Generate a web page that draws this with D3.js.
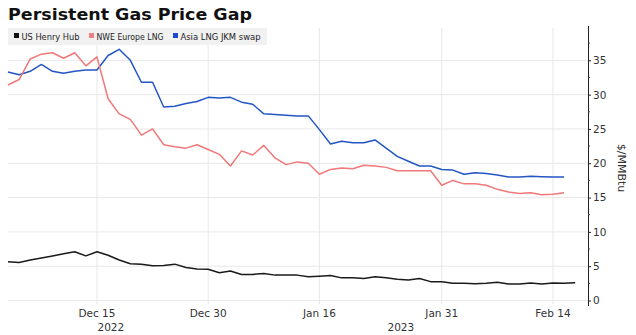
<!DOCTYPE html>
<html><head><meta charset="utf-8">
<script src="https://cdn.jsdelivr.net/npm/d3@7"></script>
<style>
body{margin:0;background:#fff;}
svg{display:block;}
</style></head>
<body>
<svg id="c" width="636" height="335"></svg>
<script>
// trading days shown on the chart (Dec 26 and Jan 2 omitted)
const dates = ["2022-12-05","2022-12-06","2022-12-07","2022-12-08","2022-12-09","2022-12-12","2022-12-13","2022-12-14","2022-12-15","2022-12-16","2022-12-19","2022-12-20","2022-12-21","2022-12-22","2022-12-23","2022-12-27","2022-12-28","2022-12-29","2022-12-30",
"2023-01-03","2023-01-04","2023-01-05","2023-01-06","2023-01-09","2023-01-10","2023-01-11","2023-01-12","2023-01-13","2023-01-16","2023-01-17","2023-01-18","2023-01-19","2023-01-20","2023-01-23","2023-01-24","2023-01-25","2023-01-26","2023-01-27","2023-01-30","2023-01-31",
"2023-02-01","2023-02-02","2023-02-03","2023-02-06","2023-02-07","2023-02-08","2023-02-09","2023-02-10","2023-02-13","2023-02-14","2023-02-15","2023-02-16"];
const henryHub = [5.65,5.55,5.9,6.2,6.5,6.8,7.1,6.5,7.1,6.6,5.9,5.35,5.3,5.05,5.1,5.3,4.8,4.6,4.55,4.05,4.3,3.8,3.8,3.95,3.7,3.7,3.7,3.45,3.55,3.65,3.3,3.3,3.2,3.45,3.3,3.1,3.0,3.2,2.75,2.75,2.5,2.5,2.45,2.5,2.65,2.4,2.4,2.55,2.4,2.55,2.5,2.6];
const nweEurope = [31.4,32.2,35.2,35.9,36.1,35.3,36.1,34.2,35.5,29.4,27.2,26.4,24.1,25.0,22.7,22.4,22.2,22.7,22.0,21.3,19.6,21.8,21.2,22.6,20.8,19.8,20.2,20.0,18.4,19.1,19.3,19.2,19.7,19.6,19.4,18.9,18.9,18.9,18.9,16.8,17.5,17.0,17.0,16.8,16.2,15.8,15.6,15.7,15.4,15.5,15.7,null];
const jkmSwap = [33.3,32.9,33.4,34.4,33.4,33.1,33.4,33.6,33.6,35.7,36.6,35.0,31.8,31.8,28.2,28.3,28.7,29.0,29.6,29.5,29.6,28.9,28.6,27.2,27.1,27.0,26.9,26.9,24.9,22.8,23.2,23.0,23.0,23.4,22.2,21.0,20.3,19.6,19.6,19.1,19.0,18.4,18.6,18.5,18.3,18.0,18.0,18.1,18.05,18.0,18.0,null];
const seriesNames = ["US Henry Hub","NWE Europe LNG","Asia LNG JKM swap"];
const seriesColors = ["#1a1a1a","#f07878","#2356c4"];
const legendColors = ["#111111","#f08080","#1f47d6"];
const xTickDates = ["2022-12-15","2022-12-30","2023-01-16","2023-01-31","2023-02-14"];
const xTickLabels = ["Dec 15","Dec 30","Jan 16","Jan 31","Feb 14"];
const yearLabels = ["2022","2023"];
const yTicks = [0,5,10,15,20,25,30,35];

const svg = d3.select("#c");
const L = 8, R = 588, T = 26, B = 306;
const x = d3.scaleLinear().domain([0, 52.15]).range([L, R]);
const y = d3.scaleLinear().domain([-0.8, 40]).range([B, T]);
const idx = d => dates.indexOf(d);

// horizontal grid
svg.append("g").selectAll("line").data(yTicks).join("line")
  .attr("x1", L).attr("x2", R).attr("y1", d=>y(d)).attr("y2", d=>y(d))
  .attr("stroke", "#e8e8e8").attr("stroke-width", 1);
// vertical grid
svg.append("g").selectAll("line").data(xTickDates).join("line")
  .attr("x1", d=>x(idx(d))).attr("x2", d=>x(idx(d))).attr("y1", 28).attr("y2", 304)
  .attr("stroke", "#e8e8e8").attr("stroke-width", 1);

// lines
const series = [henryHub, nweEurope, jkmSwap];
const line = d3.line().defined(d=>d[1]!=null).x(d=>x(d[0])).y(d=>y(d[1]));
[2,1,0].forEach(s=>{
  svg.append("path").datum(series[s].map((v,i)=>[i,v]))
    .attr("d", line).attr("fill","none").attr("stroke", seriesColors[s])
    .attr("stroke-width", 1.5).attr("stroke-linejoin","round");
});

// y axis (right)
const yAxis = d3.axisRight(y).tickValues(yTicks).tickSize(3).tickPadding(2);
const gy = svg.append("g").attr("transform", `translate(${R},0)`).call(yAxis);
gy.select(".domain").attr("d", `M0.5,${T}V${B}`).attr("stroke","#222");
gy.selectAll(".tick line").attr("stroke","#222");
gy.selectAll("text").attr("font-family","DejaVu Sans").attr("font-size","10.5px").attr("fill","#333");
// minor ticks
svg.append("g").selectAll("line").data(d3.range(2.5,40,5)).join("line")
  .attr("x1", R).attr("x2", R+2).attr("y1", d=>y(d)).attr("y2", d=>y(d)).attr("stroke","#444");

svg.append("text").attr("transform","translate(618,168) rotate(90)")
  .attr("text-anchor","middle").attr("font-family","DejaVu Sans").attr("font-size","11px")
  .attr("fill","#333").text("$/MMBtu");

// x axis labels
const gx = svg.append("g");
gx.selectAll("text").data(xTickDates).join("text")
  .attr("x", d=>x(idx(d))).attr("y", 317).attr("text-anchor","middle")
  .attr("font-family","DejaVu Sans").attr("font-size","10.5px").attr("fill","#333")
  .text((d,i)=>xTickLabels[i]);
// year labels centred on the span of each year
const split = (x(idx("2022-12-30")) + x(idx("2023-01-03")))/2;
const yearPos = [(L+split)/2, (split+R)/2];
gx.selectAll("text.yr").data(yearLabels).join("text").attr("class","yr")
  .attr("x", (d,i)=>yearPos[i]).attr("y", 331).attr("text-anchor","middle")
  .attr("font-family","DejaVu Sans").attr("font-size","10.5px").attr("fill","#333").text(d=>d);

// legend
const lg = svg.append("g");
lg.append("rect").attr("x",8).attr("y",28).attr("width",259).attr("height",17).attr("fill","#f0f0f0").attr("opacity",0.92);
const legX = [14, 89, 173];
const legW = [58, 67, 80];
seriesNames.forEach((n,i)=>{
  lg.append("rect").attr("x",legX[i]).attr("y",33).attr("width",5).attr("height",5).attr("fill",legendColors[i]);
  lg.append("text").attr("x",legX[i]+7.5).attr("y",40).attr("font-family","DejaVu Sans").attr("font-size","9px")
    .attr("textLength", legW[i]).attr("lengthAdjust","spacingAndGlyphs")
    .attr("fill","#222").text(n);
});

// title
svg.append("text").attr("x",8).attr("y",20).attr("font-family","DejaVu Sans").attr("font-weight","bold")
  .attr("font-size","16px").attr("textLength",244).attr("lengthAdjust","spacingAndGlyphs")
  .attr("fill","#111").text("Persistent Gas Price Gap");
</script>
</body></html>
